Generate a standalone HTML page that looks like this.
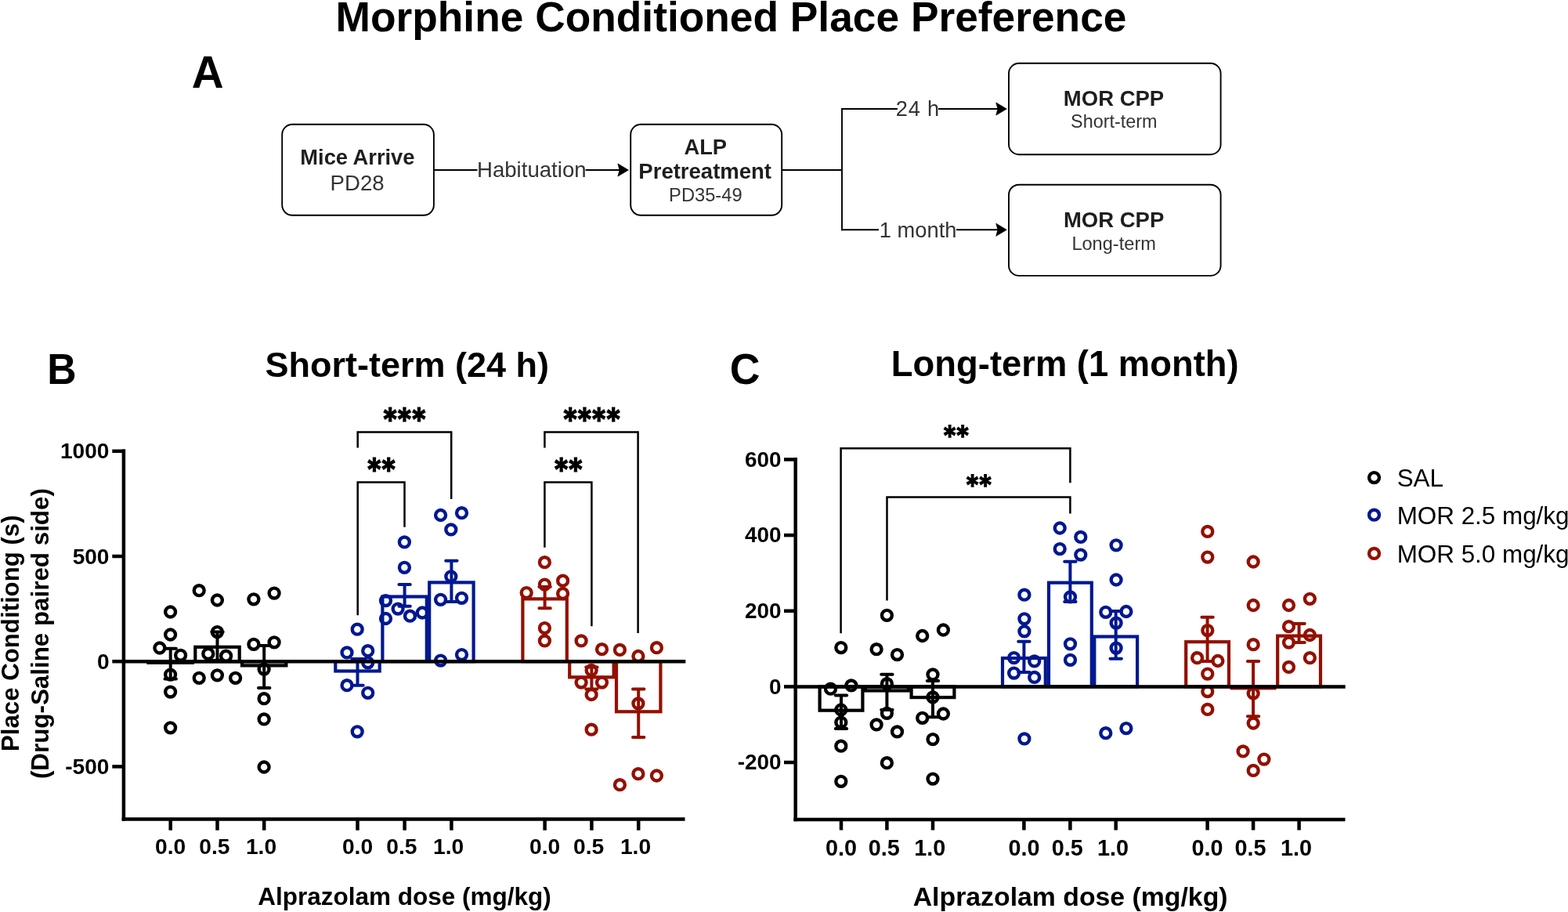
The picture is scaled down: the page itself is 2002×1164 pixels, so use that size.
<!DOCTYPE html>
<html><head><meta charset="utf-8"><title>Morphine Conditioned Place Preference</title>
<style>
html,body{margin:0;padding:0;background:#fff;}
body{width:2002px;height:1164px;overflow:hidden;}
svg{display:block;}
svg text{font-family:"Liberation Sans", Arial, sans-serif;}
</style></head><body>
<svg width="2002" height="1164" viewBox="0 0 2002 1164">
<rect width="2002" height="1164" fill="#fff"/>
<text x="933.5" y="40.2" font-size="53.3" font-weight="bold" text-anchor="middle" fill="#000">Morphine Conditioned Place Preference</text>
<text x="265.25" y="111.7" font-size="56.6" font-weight="bold" text-anchor="middle" fill="#000">A</text>
<text transform="translate(78.85,490) scale(0.92,1)" font-size="56.2" font-weight="bold" text-anchor="middle" fill="#000">B</text>
<text transform="translate(951.2,489.7) scale(0.965,1)" font-size="55.5" font-weight="bold" text-anchor="middle" fill="#000">C</text>
<rect x="360.2" y="158.8" width="193.7" height="116" rx="13" ry="13" fill="#fff" stroke="#000" stroke-width="1.9"/>
<text x="456.4" y="209.7" font-size="27.3" font-weight="bold" text-anchor="middle" fill="#1e1e1e">Mice Arrive</text>
<text x="456.1" y="242.8" font-size="27.6" font-weight="normal" text-anchor="middle" fill="#333">PD28</text>
<line x1="554" y1="217" x2="609.5" y2="217" stroke="#000" stroke-width="1.9"/>
<text x="678.8" y="226.1" font-size="27.6" font-weight="normal" text-anchor="middle" fill="#333">Habituation</text>
<line x1="747.6" y1="217" x2="792" y2="217" stroke="#000" stroke-width="1.9"/>
<polygon points="802.3,217 788.9,209.0 791.0999999999999,217 788.9,225.0" fill="#000" stroke="#000" stroke-width="0.8" stroke-linejoin="miter"/>
<rect x="805.2" y="158.8" width="193" height="116" rx="13" ry="13" fill="#fff" stroke="#000" stroke-width="1.9"/>
<text x="900.8" y="197" font-size="27.3" font-weight="bold" text-anchor="middle" fill="#1e1e1e">ALP</text>
<text x="900.2" y="227.7" font-size="27.5" font-weight="bold" text-anchor="middle" fill="#1e1e1e">Pretreatment</text>
<text x="900.85" y="256.7" font-size="23.7" font-weight="normal" text-anchor="middle" fill="#333">PD35-49</text>
<line x1="998.2" y1="217" x2="1075" y2="217" stroke="#000" stroke-width="1.9"/>
<line x1="1075" y1="138.05" x2="1075" y2="294.25" stroke="#000" stroke-width="1.9"/>
<line x1="1074.05" y1="139" x2="1146" y2="139" stroke="#000" stroke-width="1.9"/>
<text x="1171.8" y="147.8" font-size="27.2" font-weight="normal" text-anchor="middle" fill="#333" letter-spacing="0.8">24 h</text>
<line x1="1198" y1="139" x2="1276" y2="139" stroke="#000" stroke-width="1.9"/>
<polygon points="1285.2,139 1271.8,131.0 1274.0,139 1271.8,147.0" fill="#000" stroke="#000" stroke-width="0.8" stroke-linejoin="miter"/>
<line x1="1074.05" y1="293.3" x2="1122" y2="293.3" stroke="#000" stroke-width="1.9"/>
<text x="1172.1" y="302.7" font-size="27.3" font-weight="normal" text-anchor="middle" fill="#333">1 month</text>
<line x1="1221" y1="293.3" x2="1276" y2="293.3" stroke="#000" stroke-width="1.9"/>
<polygon points="1285.2,293.3 1271.8,285.3 1274.0,293.3 1271.8,301.3" fill="#000" stroke="#000" stroke-width="0.8" stroke-linejoin="miter"/>
<rect x="1288" y="80.8" width="270.6" height="116.4" rx="13" ry="13" fill="#fff" stroke="#000" stroke-width="1.9"/>
<text x="1422" y="134.8" font-size="27.5" font-weight="bold" text-anchor="middle" fill="#1e1e1e">MOR CPP</text>
<text x="1422.3" y="163.4" font-size="23.4" font-weight="normal" text-anchor="middle" fill="#333">Short-term</text>
<rect x="1288" y="235.7" width="270.6" height="116.2" rx="13" ry="13" fill="#fff" stroke="#000" stroke-width="1.9"/>
<text x="1422.1" y="290" font-size="27.5" font-weight="bold" text-anchor="middle" fill="#1e1e1e">MOR CPP</text>
<text x="1422.15" y="319.3" font-size="23.6" font-weight="normal" text-anchor="middle" fill="#333">Long-term</text>
<text x="519.8" y="481.1" font-size="45" font-weight="bold" text-anchor="middle" fill="#000">Short-term (24 h)</text>
<line x1="157.9" y1="573.6" x2="157.9" y2="1047.75" stroke="#000" stroke-width="4.5"/>
<line x1="143.3" y1="575.8" x2="160" y2="575.8" stroke="#000" stroke-width="4.5"/>
<text x="139.5" y="585.4" font-size="28.1" font-weight="bold" text-anchor="end" fill="#000">1000</text>
<line x1="143.3" y1="710.0" x2="160" y2="710.0" stroke="#000" stroke-width="4.5"/>
<text x="139.5" y="719.6" font-size="28.1" font-weight="bold" text-anchor="end" fill="#000">500</text>
<line x1="143.3" y1="844.2" x2="160" y2="844.2" stroke="#000" stroke-width="4.5"/>
<text x="139.5" y="853.8000000000001" font-size="28.1" font-weight="bold" text-anchor="end" fill="#000">0</text>
<line x1="143.3" y1="978.4000000000001" x2="160" y2="978.4000000000001" stroke="#000" stroke-width="4.5"/>
<text x="139.5" y="988.0000000000001" font-size="28.1" font-weight="bold" text-anchor="end" fill="#000">-500</text>
<line x1="155.65" y1="1045.5" x2="874.5" y2="1045.5" stroke="#000" stroke-width="4.5"/>
<line x1="217.7" y1="1045.5" x2="217.7" y2="1059.7" stroke="#000" stroke-width="4.5"/>
<text x="217.7" y="1089.6" font-size="28.2" font-weight="bold" text-anchor="middle" fill="#000">0.0</text>
<line x1="277.5" y1="1045.5" x2="277.5" y2="1059.7" stroke="#000" stroke-width="4.5"/>
<text x="273.8" y="1089.6" font-size="28.2" font-weight="bold" text-anchor="middle" fill="#000">0.5</text>
<line x1="337.2" y1="1045.5" x2="337.2" y2="1059.7" stroke="#000" stroke-width="4.5"/>
<text x="333.5" y="1089.6" font-size="28.2" font-weight="bold" text-anchor="middle" fill="#000">1.0</text>
<line x1="456.5" y1="1045.5" x2="456.5" y2="1059.7" stroke="#000" stroke-width="4.5"/>
<text x="456.5" y="1089.6" font-size="28.2" font-weight="bold" text-anchor="middle" fill="#000">0.0</text>
<line x1="516.6" y1="1045.5" x2="516.6" y2="1059.7" stroke="#000" stroke-width="4.5"/>
<text x="512.9" y="1089.6" font-size="28.2" font-weight="bold" text-anchor="middle" fill="#000">0.5</text>
<line x1="576.4" y1="1045.5" x2="576.4" y2="1059.7" stroke="#000" stroke-width="4.5"/>
<text x="572.6999999999999" y="1089.6" font-size="28.2" font-weight="bold" text-anchor="middle" fill="#000">1.0</text>
<line x1="695.6" y1="1045.5" x2="695.6" y2="1059.7" stroke="#000" stroke-width="4.5"/>
<text x="695.6" y="1089.6" font-size="28.2" font-weight="bold" text-anchor="middle" fill="#000">0.0</text>
<line x1="755.4" y1="1045.5" x2="755.4" y2="1059.7" stroke="#000" stroke-width="4.5"/>
<text x="751.6999999999999" y="1089.6" font-size="28.2" font-weight="bold" text-anchor="middle" fill="#000">0.5</text>
<line x1="815.2" y1="1045.5" x2="815.2" y2="1059.7" stroke="#000" stroke-width="4.5"/>
<text x="811.5" y="1089.6" font-size="28.2" font-weight="bold" text-anchor="middle" fill="#000">1.0</text>
<text x="516.5" y="1155" font-size="31.5" font-weight="bold" text-anchor="middle" fill="#000">Alprazolam dose (mg/kg)</text>
<g transform="translate(23.6,808.2) rotate(-90)">
<text x="0" y="0" font-size="31.2" font-weight="bold" text-anchor="middle" fill="#000">Place Conditiong (s)</text>
</g>
<g transform="translate(61.7,808.6) rotate(-90)">
<text x="0" y="0" font-size="31.35" font-weight="bold" text-anchor="middle" fill="#000">(Drug-Saline paired side)</text>
</g>
<rect x="189.5" y="844.2" width="56.4" height="1.6" fill="none" stroke="#000" stroke-width="4.2"/>
<rect x="249.3" y="825.8" width="56.4" height="18.5" fill="none" stroke="#000" stroke-width="4.2"/>
<rect x="309.0" y="844.2" width="56.4" height="5.2" fill="none" stroke="#000" stroke-width="4.2"/>
<rect x="428.3" y="844.2" width="56.4" height="12.3" fill="none" stroke="#001890" stroke-width="4.2"/>
<rect x="488.4" y="761.5" width="56.4" height="82.7" fill="none" stroke="#001890" stroke-width="4.2"/>
<rect x="548.2" y="743.4" width="56.4" height="100.8" fill="none" stroke="#001890" stroke-width="4.2"/>
<rect x="667.4" y="764.4" width="56.4" height="79.8" fill="none" stroke="#931000" stroke-width="4.2"/>
<rect x="727.2" y="844.2" width="56.4" height="20.1" fill="none" stroke="#931000" stroke-width="4.2"/>
<rect x="787.0" y="844.2" width="56.4" height="64.1" fill="none" stroke="#931000" stroke-width="4.2"/>
<line x1="217.7" y1="827.7" x2="217.7" y2="866.5" stroke="#000" stroke-width="4"/>
<path d="M210.5,827.7H224.9M210.5,866.5H224.9" stroke="#000" stroke-width="4" stroke-linecap="round" fill="none"/>
<line x1="277.5" y1="806.6" x2="277.5" y2="843" stroke="#000" stroke-width="4"/>
<path d="M270.3,806.6H284.7M270.3,843H284.7" stroke="#000" stroke-width="4" stroke-linecap="round" fill="none"/>
<line x1="337.2" y1="824" x2="337.2" y2="878" stroke="#000" stroke-width="4"/>
<path d="M330.0,824H344.4M330.0,878H344.4" stroke="#000" stroke-width="4" stroke-linecap="round" fill="none"/>
<line x1="456.5" y1="841" x2="456.5" y2="874.8" stroke="#001890" stroke-width="4"/>
<path d="M449.3,841H463.7M449.3,874.8H463.7" stroke="#001890" stroke-width="4" stroke-linecap="round" fill="none"/>
<line x1="516.6" y1="745.9" x2="516.6" y2="773.8" stroke="#001890" stroke-width="4"/>
<path d="M509.4,745.9H523.8M509.4,773.8H523.8" stroke="#001890" stroke-width="4" stroke-linecap="round" fill="none"/>
<line x1="576.4" y1="715.7" x2="576.4" y2="768.1" stroke="#001890" stroke-width="4"/>
<path d="M569.2,715.7H583.6M569.2,768.1H583.6" stroke="#001890" stroke-width="4" stroke-linecap="round" fill="none"/>
<line x1="695.6" y1="749" x2="695.6" y2="776.3" stroke="#931000" stroke-width="4"/>
<path d="M688.4,749H702.8M688.4,776.3H702.8" stroke="#931000" stroke-width="4" stroke-linecap="round" fill="none"/>
<line x1="755.4" y1="851.5" x2="755.4" y2="879.4" stroke="#931000" stroke-width="4"/>
<path d="M748.2,851.5H762.6M748.2,879.4H762.6" stroke="#931000" stroke-width="4" stroke-linecap="round" fill="none"/>
<line x1="815.2" y1="879.4" x2="815.2" y2="941" stroke="#931000" stroke-width="4"/>
<path d="M808.0,879.4H822.4M808.0,941H822.4" stroke="#931000" stroke-width="4" stroke-linecap="round" fill="none"/>
<circle cx="217.6" cy="781" r="6.45" fill="none" stroke="#000" stroke-width="4.4"/>
<circle cx="217.6" cy="810" r="6.45" fill="none" stroke="#000" stroke-width="4.4"/>
<circle cx="203.9" cy="827" r="6.45" fill="none" stroke="#000" stroke-width="4.4"/>
<circle cx="230.6" cy="836.3" r="6.45" fill="none" stroke="#000" stroke-width="4.4"/>
<circle cx="217.6" cy="861.1" r="6.45" fill="none" stroke="#000" stroke-width="4.4"/>
<circle cx="217.6" cy="883.1" r="6.45" fill="none" stroke="#000" stroke-width="4.4"/>
<circle cx="217.6" cy="928.8" r="6.45" fill="none" stroke="#000" stroke-width="4.4"/>
<circle cx="254.2" cy="753.7" r="6.45" fill="none" stroke="#000" stroke-width="4.4"/>
<circle cx="277.4" cy="766" r="6.45" fill="none" stroke="#000" stroke-width="4.4"/>
<circle cx="277.4" cy="806.6" r="6.45" fill="none" stroke="#000" stroke-width="4.4"/>
<circle cx="265.8" cy="834.4" r="6.45" fill="none" stroke="#000" stroke-width="4.4"/>
<circle cx="288.6" cy="837.2" r="6.45" fill="none" stroke="#000" stroke-width="4.4"/>
<circle cx="254.2" cy="865.3" r="6.45" fill="none" stroke="#000" stroke-width="4.4"/>
<circle cx="277.4" cy="861.8" r="6.45" fill="none" stroke="#000" stroke-width="4.4"/>
<circle cx="300.6" cy="865.3" r="6.45" fill="none" stroke="#000" stroke-width="4.4"/>
<circle cx="323.9" cy="764.8" r="6.45" fill="none" stroke="#000" stroke-width="4.4"/>
<circle cx="350.1" cy="757.1" r="6.45" fill="none" stroke="#000" stroke-width="4.4"/>
<circle cx="323.9" cy="822.3" r="6.45" fill="none" stroke="#000" stroke-width="4.4"/>
<circle cx="350.1" cy="819.8" r="6.45" fill="none" stroke="#000" stroke-width="4.4"/>
<circle cx="337.1" cy="854.1" r="6.45" fill="none" stroke="#000" stroke-width="4.4"/>
<circle cx="337.1" cy="891.7" r="6.45" fill="none" stroke="#000" stroke-width="4.4"/>
<circle cx="337.1" cy="917.9" r="6.45" fill="none" stroke="#000" stroke-width="4.4"/>
<circle cx="337.1" cy="979" r="6.45" fill="none" stroke="#000" stroke-width="4.4"/>
<circle cx="456.2" cy="803.2" r="6.45" fill="none" stroke="#001890" stroke-width="4.4"/>
<circle cx="443" cy="832.9" r="6.45" fill="none" stroke="#001890" stroke-width="4.4"/>
<circle cx="469.7" cy="830.7" r="6.45" fill="none" stroke="#001890" stroke-width="4.4"/>
<circle cx="469.7" cy="845.8" r="6.45" fill="none" stroke="#001890" stroke-width="4.4"/>
<circle cx="443" cy="874.7" r="6.45" fill="none" stroke="#001890" stroke-width="4.4"/>
<circle cx="469.7" cy="884.3" r="6.45" fill="none" stroke="#001890" stroke-width="4.4"/>
<circle cx="456.2" cy="933.8" r="6.45" fill="none" stroke="#001890" stroke-width="4.4"/>
<circle cx="516.4" cy="691.9" r="6.45" fill="none" stroke="#001890" stroke-width="4.4"/>
<circle cx="516.4" cy="724.3" r="6.45" fill="none" stroke="#001890" stroke-width="4.4"/>
<circle cx="492.5" cy="766.6" r="6.45" fill="none" stroke="#001890" stroke-width="4.4"/>
<circle cx="492.5" cy="789.5" r="6.45" fill="none" stroke="#001890" stroke-width="4.4"/>
<circle cx="508.1" cy="777.1" r="6.45" fill="none" stroke="#001890" stroke-width="4.4"/>
<circle cx="523.5" cy="786.2" r="6.45" fill="none" stroke="#001890" stroke-width="4.4"/>
<circle cx="539.2" cy="782" r="6.45" fill="none" stroke="#001890" stroke-width="4.4"/>
<circle cx="562.6" cy="657.5" r="6.45" fill="none" stroke="#001890" stroke-width="4.4"/>
<circle cx="589.5" cy="654.7" r="6.45" fill="none" stroke="#001890" stroke-width="4.4"/>
<circle cx="575.8" cy="675.9" r="6.45" fill="none" stroke="#001890" stroke-width="4.4"/>
<circle cx="575.8" cy="735.8" r="6.45" fill="none" stroke="#001890" stroke-width="4.4"/>
<circle cx="562.6" cy="765.3" r="6.45" fill="none" stroke="#001890" stroke-width="4.4"/>
<circle cx="589.5" cy="763.3" r="6.45" fill="none" stroke="#001890" stroke-width="4.4"/>
<circle cx="562.6" cy="843.1" r="6.45" fill="none" stroke="#001890" stroke-width="4.4"/>
<circle cx="589.5" cy="835.6" r="6.45" fill="none" stroke="#001890" stroke-width="4.4"/>
<circle cx="695.4" cy="717.7" r="6.45" fill="none" stroke="#931000" stroke-width="4.4"/>
<circle cx="695.4" cy="746.1" r="6.45" fill="none" stroke="#931000" stroke-width="4.4"/>
<circle cx="718.6" cy="741.2" r="6.45" fill="none" stroke="#931000" stroke-width="4.4"/>
<circle cx="672.2" cy="756.6" r="6.45" fill="none" stroke="#931000" stroke-width="4.4"/>
<circle cx="718.6" cy="757.5" r="6.45" fill="none" stroke="#931000" stroke-width="4.4"/>
<circle cx="695.4" cy="801.6" r="6.45" fill="none" stroke="#931000" stroke-width="4.4"/>
<circle cx="695.4" cy="817.9" r="6.45" fill="none" stroke="#931000" stroke-width="4.4"/>
<circle cx="742.1" cy="817.9" r="6.45" fill="none" stroke="#931000" stroke-width="4.4"/>
<circle cx="768.5" cy="828.7" r="6.45" fill="none" stroke="#931000" stroke-width="4.4"/>
<circle cx="742.1" cy="871.1" r="6.45" fill="none" stroke="#931000" stroke-width="4.4"/>
<circle cx="755.1" cy="855.5" r="6.45" fill="none" stroke="#931000" stroke-width="4.4"/>
<circle cx="768.5" cy="871.1" r="6.45" fill="none" stroke="#931000" stroke-width="4.4"/>
<circle cx="755.1" cy="886.5" r="6.45" fill="none" stroke="#931000" stroke-width="4.4"/>
<circle cx="755.1" cy="931.2" r="6.45" fill="none" stroke="#931000" stroke-width="4.4"/>
<circle cx="791.4" cy="829.4" r="6.45" fill="none" stroke="#931000" stroke-width="4.4"/>
<circle cx="814.9" cy="837.5" r="6.45" fill="none" stroke="#931000" stroke-width="4.4"/>
<circle cx="838.4" cy="826.7" r="6.45" fill="none" stroke="#931000" stroke-width="4.4"/>
<circle cx="814.9" cy="897.9" r="6.45" fill="none" stroke="#931000" stroke-width="4.4"/>
<circle cx="814.9" cy="987.7" r="6.45" fill="none" stroke="#931000" stroke-width="4.4"/>
<circle cx="838.4" cy="990" r="6.45" fill="none" stroke="#931000" stroke-width="4.4"/>
<circle cx="791.4" cy="1001.7" r="6.45" fill="none" stroke="#931000" stroke-width="4.4"/>
<line x1="155.65" y1="844.2" x2="875.3" y2="844.2" stroke="#000" stroke-width="4.5"/>
<polyline points="456.7,571.5 456.7,551.6 576.2,551.6 576.2,636.9" fill="none" stroke="#000" stroke-width="2.5"/>
<polyline points="456.7,785.3 456.7,615.6 516.5,615.6 516.5,672.8" fill="none" stroke="#000" stroke-width="2.5"/>
<polyline points="695.4,571.5 695.4,551.6 814.6,551.6 814.6,808.1" fill="none" stroke="#000" stroke-width="2.5"/>
<polyline points="695.4,698.8 695.4,615.6 755.4,615.6 755.4,799.3" fill="none" stroke="#000" stroke-width="2.5"/>
<text transform="translate(514.5,547.75) scale(1,1.08)" font-size="37" font-weight="bold" text-anchor="middle" letter-spacing="-3.9" stroke="#000" stroke-width="2.2" stroke-linejoin="miter" style="font-family:'WenQuanYi Zen Hei', IPAGothic, sans-serif">***</text>
<text transform="translate(485,612.05) scale(1,1.08)" font-size="37" font-weight="bold" text-anchor="middle" letter-spacing="-3.9" stroke="#000" stroke-width="2.2" stroke-linejoin="miter" style="font-family:'WenQuanYi Zen Hei', IPAGothic, sans-serif">**</text>
<text transform="translate(753.6,547.75) scale(1,1.08)" font-size="37" font-weight="bold" text-anchor="middle" letter-spacing="-3.9" stroke="#000" stroke-width="2.2" stroke-linejoin="miter" style="font-family:'WenQuanYi Zen Hei', IPAGothic, sans-serif">****</text>
<text transform="translate(723.7,612.05) scale(1,1.08)" font-size="37" font-weight="bold" text-anchor="middle" letter-spacing="-3.9" stroke="#000" stroke-width="2.2" stroke-linejoin="miter" style="font-family:'WenQuanYi Zen Hei', IPAGothic, sans-serif">**</text>
<text x="1359.75" y="480.2" font-size="45.4" font-weight="bold" text-anchor="middle" fill="#000">Long-term (1 month)</text>
<line x1="1015.7" y1="583.95" x2="1015.7" y2="1048.15" stroke="#000" stroke-width="4.5"/>
<line x1="1001" y1="586.45" x2="1018" y2="586.45" stroke="#000" stroke-width="4.5"/>
<text x="997.5" y="595.6500000000001" font-size="27.9" font-weight="bold" text-anchor="end" fill="#000">600</text>
<line x1="1001" y1="683.0999999999999" x2="1018" y2="683.0999999999999" stroke="#000" stroke-width="4.5"/>
<text x="997.5" y="692.3" font-size="27.9" font-weight="bold" text-anchor="end" fill="#000">400</text>
<line x1="1001" y1="779.75" x2="1018" y2="779.75" stroke="#000" stroke-width="4.5"/>
<text x="997.5" y="788.95" font-size="27.9" font-weight="bold" text-anchor="end" fill="#000">200</text>
<line x1="1001" y1="876.4" x2="1018" y2="876.4" stroke="#000" stroke-width="4.5"/>
<text x="997.5" y="885.6" font-size="27.9" font-weight="bold" text-anchor="end" fill="#000">0</text>
<line x1="1001" y1="973.05" x2="1018" y2="973.05" stroke="#000" stroke-width="4.5"/>
<text x="997.5" y="982.25" font-size="27.9" font-weight="bold" text-anchor="end" fill="#000">-200</text>
<line x1="1013.45" y1="1045.9" x2="1717.5" y2="1045.9" stroke="#000" stroke-width="4.5"/>
<line x1="1074.0" y1="1045.9" x2="1074.0" y2="1059.5" stroke="#000" stroke-width="4.5"/>
<text x="1074.0" y="1091.8" font-size="28.8" font-weight="bold" text-anchor="middle" fill="#000">0.0</text>
<line x1="1132.4" y1="1045.9" x2="1132.4" y2="1059.5" stroke="#000" stroke-width="4.5"/>
<text x="1128.7" y="1091.8" font-size="28.8" font-weight="bold" text-anchor="middle" fill="#000">0.5</text>
<line x1="1191.0" y1="1045.9" x2="1191.0" y2="1059.5" stroke="#000" stroke-width="4.5"/>
<text x="1187.3" y="1091.8" font-size="28.8" font-weight="bold" text-anchor="middle" fill="#000">1.0</text>
<line x1="1307.4" y1="1045.9" x2="1307.4" y2="1059.5" stroke="#000" stroke-width="4.5"/>
<text x="1307.4" y="1091.8" font-size="28.8" font-weight="bold" text-anchor="middle" fill="#000">0.0</text>
<line x1="1366.4" y1="1045.9" x2="1366.4" y2="1059.5" stroke="#000" stroke-width="4.5"/>
<text x="1362.7" y="1091.8" font-size="28.8" font-weight="bold" text-anchor="middle" fill="#000">0.5</text>
<line x1="1424.7" y1="1045.9" x2="1424.7" y2="1059.5" stroke="#000" stroke-width="4.5"/>
<text x="1421.0" y="1091.8" font-size="28.8" font-weight="bold" text-anchor="middle" fill="#000">1.0</text>
<line x1="1541.6" y1="1045.9" x2="1541.6" y2="1059.5" stroke="#000" stroke-width="4.5"/>
<text x="1541.6" y="1091.8" font-size="28.8" font-weight="bold" text-anchor="middle" fill="#000">0.0</text>
<line x1="1600.1" y1="1045.9" x2="1600.1" y2="1059.5" stroke="#000" stroke-width="4.5"/>
<text x="1596.3999999999999" y="1091.8" font-size="28.8" font-weight="bold" text-anchor="middle" fill="#000">0.5</text>
<line x1="1658.6" y1="1045.9" x2="1658.6" y2="1059.5" stroke="#000" stroke-width="4.5"/>
<text x="1654.8999999999999" y="1091.8" font-size="28.8" font-weight="bold" text-anchor="middle" fill="#000">1.0</text>
<text x="1366.65" y="1155.8" font-size="33.8" font-weight="bold" text-anchor="middle" fill="#000">Alprazolam dose (mg/kg)</text>
<rect x="1046.6" y="876.4" width="54.8" height="30.3" fill="none" stroke="#000" stroke-width="4.2"/>
<rect x="1105.0" y="876.4" width="54.8" height="5.1" fill="none" stroke="#000" stroke-width="4.2"/>
<rect x="1163.6" y="876.4" width="54.8" height="13.7" fill="none" stroke="#000" stroke-width="4.2"/>
<rect x="1280.0" y="840.0" width="54.8" height="36.4" fill="none" stroke="#001890" stroke-width="4.2"/>
<rect x="1339.0" y="743.7" width="54.8" height="132.7" fill="none" stroke="#001890" stroke-width="4.2"/>
<rect x="1397.3" y="812.5" width="54.8" height="63.9" fill="none" stroke="#001890" stroke-width="4.2"/>
<rect x="1514.2" y="819.2" width="54.8" height="57.2" fill="none" stroke="#931000" stroke-width="4.2"/>
<rect x="1572.7" y="876.4" width="54.8" height="1.9" fill="none" stroke="#931000" stroke-width="4.2"/>
<rect x="1631.2" y="811.6" width="54.8" height="64.8" fill="none" stroke="#931000" stroke-width="4.2"/>
<line x1="1074.0" y1="887.6" x2="1074.0" y2="929.9" stroke="#000" stroke-width="4"/>
<path d="M1066.8,887.6H1081.2M1066.8,929.9H1081.2" stroke="#000" stroke-width="4" stroke-linecap="round" fill="none"/>
<line x1="1132.4" y1="860.7" x2="1132.4" y2="905.9" stroke="#000" stroke-width="4"/>
<path d="M1125.2,860.7H1139.6M1125.2,905.9H1139.6" stroke="#000" stroke-width="4" stroke-linecap="round" fill="none"/>
<line x1="1191.0" y1="869" x2="1191.0" y2="915.3" stroke="#000" stroke-width="4"/>
<path d="M1183.8,869H1198.2M1183.8,915.3H1198.2" stroke="#000" stroke-width="4" stroke-linecap="round" fill="none"/>
<line x1="1307.4" y1="818.8" x2="1307.4" y2="858" stroke="#001890" stroke-width="4"/>
<path d="M1300.2,818.8H1314.6M1300.2,858H1314.6" stroke="#001890" stroke-width="4" stroke-linecap="round" fill="none"/>
<line x1="1366.4" y1="716.7" x2="1366.4" y2="768" stroke="#001890" stroke-width="4"/>
<path d="M1359.2,716.7H1373.6M1359.2,768H1373.6" stroke="#001890" stroke-width="4" stroke-linecap="round" fill="none"/>
<line x1="1424.7" y1="780.1" x2="1424.7" y2="840.8" stroke="#001890" stroke-width="4"/>
<path d="M1417.5,780.1H1431.9M1417.5,840.8H1431.9" stroke="#001890" stroke-width="4" stroke-linecap="round" fill="none"/>
<line x1="1541.6" y1="787.7" x2="1541.6" y2="844.1" stroke="#931000" stroke-width="4"/>
<path d="M1534.4,787.7H1548.8M1534.4,844.1H1548.8" stroke="#931000" stroke-width="4" stroke-linecap="round" fill="none"/>
<line x1="1600.1" y1="844.1" x2="1600.1" y2="914.2" stroke="#931000" stroke-width="4"/>
<path d="M1592.9,844.1H1607.3M1592.9,914.2H1607.3" stroke="#931000" stroke-width="4" stroke-linecap="round" fill="none"/>
<line x1="1658.6" y1="795.9" x2="1658.6" y2="820.1" stroke="#931000" stroke-width="4"/>
<path d="M1651.4,795.9H1665.8M1651.4,820.1H1665.8" stroke="#931000" stroke-width="4" stroke-linecap="round" fill="none"/>
<circle cx="1073.8" cy="826.6" r="6.45" fill="none" stroke="#000" stroke-width="4.4"/>
<circle cx="1060.5" cy="879.2" r="6.45" fill="none" stroke="#000" stroke-width="4.4"/>
<circle cx="1086.9" cy="874.9" r="6.45" fill="none" stroke="#000" stroke-width="4.4"/>
<circle cx="1073.8" cy="906" r="6.45" fill="none" stroke="#000" stroke-width="4.4"/>
<circle cx="1073.8" cy="922.1" r="6.45" fill="none" stroke="#000" stroke-width="4.4"/>
<circle cx="1073.8" cy="952.2" r="6.45" fill="none" stroke="#000" stroke-width="4.4"/>
<circle cx="1073.8" cy="997.3" r="6.45" fill="none" stroke="#000" stroke-width="4.4"/>
<circle cx="1132.4" cy="785.3" r="6.45" fill="none" stroke="#000" stroke-width="4.4"/>
<circle cx="1119.1" cy="828.7" r="6.45" fill="none" stroke="#000" stroke-width="4.4"/>
<circle cx="1145.5" cy="835.6" r="6.45" fill="none" stroke="#000" stroke-width="4.4"/>
<circle cx="1132.4" cy="872.7" r="6.45" fill="none" stroke="#000" stroke-width="4.4"/>
<circle cx="1132.4" cy="910.3" r="6.45" fill="none" stroke="#000" stroke-width="4.4"/>
<circle cx="1119.1" cy="924.9" r="6.45" fill="none" stroke="#000" stroke-width="4.4"/>
<circle cx="1145.5" cy="933.9" r="6.45" fill="none" stroke="#000" stroke-width="4.4"/>
<circle cx="1132.4" cy="973.7" r="6.45" fill="none" stroke="#000" stroke-width="4.4"/>
<circle cx="1177.7" cy="811.5" r="6.45" fill="none" stroke="#000" stroke-width="4.4"/>
<circle cx="1204.4" cy="804" r="6.45" fill="none" stroke="#000" stroke-width="4.4"/>
<circle cx="1191" cy="860.9" r="6.45" fill="none" stroke="#000" stroke-width="4.4"/>
<circle cx="1191" cy="889.9" r="6.45" fill="none" stroke="#000" stroke-width="4.4"/>
<circle cx="1177.7" cy="916.3" r="6.45" fill="none" stroke="#000" stroke-width="4.4"/>
<circle cx="1204.4" cy="911" r="6.45" fill="none" stroke="#000" stroke-width="4.4"/>
<circle cx="1191" cy="943.6" r="6.45" fill="none" stroke="#000" stroke-width="4.4"/>
<circle cx="1191" cy="994.1" r="6.45" fill="none" stroke="#000" stroke-width="4.4"/>
<circle cx="1307.9" cy="759.2" r="6.45" fill="none" stroke="#001890" stroke-width="4.4"/>
<circle cx="1307.9" cy="789.8" r="6.45" fill="none" stroke="#001890" stroke-width="4.4"/>
<circle cx="1307.9" cy="805.8" r="6.45" fill="none" stroke="#001890" stroke-width="4.4"/>
<circle cx="1294.6" cy="839.6" r="6.45" fill="none" stroke="#001890" stroke-width="4.4"/>
<circle cx="1320.7" cy="843.9" r="6.45" fill="none" stroke="#001890" stroke-width="4.4"/>
<circle cx="1294.6" cy="859.1" r="6.45" fill="none" stroke="#001890" stroke-width="4.4"/>
<circle cx="1320.7" cy="864.4" r="6.45" fill="none" stroke="#001890" stroke-width="4.4"/>
<circle cx="1307.9" cy="942.9" r="6.45" fill="none" stroke="#001890" stroke-width="4.4"/>
<circle cx="1353.2" cy="674" r="6.45" fill="none" stroke="#001890" stroke-width="4.4"/>
<circle cx="1379.8" cy="685.4" r="6.45" fill="none" stroke="#001890" stroke-width="4.4"/>
<circle cx="1353.2" cy="700.6" r="6.45" fill="none" stroke="#001890" stroke-width="4.4"/>
<circle cx="1379.8" cy="708.1" r="6.45" fill="none" stroke="#001890" stroke-width="4.4"/>
<circle cx="1366.5" cy="761.9" r="6.45" fill="none" stroke="#001890" stroke-width="4.4"/>
<circle cx="1366.5" cy="821.8" r="6.45" fill="none" stroke="#001890" stroke-width="4.4"/>
<circle cx="1366.5" cy="842.3" r="6.45" fill="none" stroke="#001890" stroke-width="4.4"/>
<circle cx="1425.1" cy="695.8" r="6.45" fill="none" stroke="#001890" stroke-width="4.4"/>
<circle cx="1425.1" cy="740" r="6.45" fill="none" stroke="#001890" stroke-width="4.4"/>
<circle cx="1411.8" cy="781.3" r="6.45" fill="none" stroke="#001890" stroke-width="4.4"/>
<circle cx="1437.9" cy="780.5" r="6.45" fill="none" stroke="#001890" stroke-width="4.4"/>
<circle cx="1425.1" cy="795.1" r="6.45" fill="none" stroke="#001890" stroke-width="4.4"/>
<circle cx="1425.1" cy="827.1" r="6.45" fill="none" stroke="#001890" stroke-width="4.4"/>
<circle cx="1411.8" cy="935.7" r="6.45" fill="none" stroke="#001890" stroke-width="4.4"/>
<circle cx="1437.9" cy="929.6" r="6.45" fill="none" stroke="#001890" stroke-width="4.4"/>
<circle cx="1541.8" cy="678.4" r="6.45" fill="none" stroke="#931000" stroke-width="4.4"/>
<circle cx="1541.8" cy="711.1" r="6.45" fill="none" stroke="#931000" stroke-width="4.4"/>
<circle cx="1541.8" cy="804.6" r="6.45" fill="none" stroke="#931000" stroke-width="4.4"/>
<circle cx="1528.6" cy="839.7" r="6.45" fill="none" stroke="#931000" stroke-width="4.4"/>
<circle cx="1554.9" cy="843.5" r="6.45" fill="none" stroke="#931000" stroke-width="4.4"/>
<circle cx="1541.8" cy="860.1" r="6.45" fill="none" stroke="#931000" stroke-width="4.4"/>
<circle cx="1541.8" cy="882.6" r="6.45" fill="none" stroke="#931000" stroke-width="4.4"/>
<circle cx="1541.8" cy="905.4" r="6.45" fill="none" stroke="#931000" stroke-width="4.4"/>
<circle cx="1600.2" cy="717" r="6.45" fill="none" stroke="#931000" stroke-width="4.4"/>
<circle cx="1600.2" cy="772.5" r="6.45" fill="none" stroke="#931000" stroke-width="4.4"/>
<circle cx="1600.2" cy="822.7" r="6.45" fill="none" stroke="#931000" stroke-width="4.4"/>
<circle cx="1600.2" cy="885" r="6.45" fill="none" stroke="#931000" stroke-width="4.4"/>
<circle cx="1600.2" cy="923" r="6.45" fill="none" stroke="#931000" stroke-width="4.4"/>
<circle cx="1587.1" cy="958.9" r="6.45" fill="none" stroke="#931000" stroke-width="4.4"/>
<circle cx="1613.9" cy="969.1" r="6.45" fill="none" stroke="#931000" stroke-width="4.4"/>
<circle cx="1600.2" cy="983.4" r="6.45" fill="none" stroke="#931000" stroke-width="4.4"/>
<circle cx="1645.5" cy="772.5" r="6.45" fill="none" stroke="#931000" stroke-width="4.4"/>
<circle cx="1672.4" cy="764.3" r="6.45" fill="none" stroke="#931000" stroke-width="4.4"/>
<circle cx="1645.5" cy="799.7" r="6.45" fill="none" stroke="#931000" stroke-width="4.4"/>
<circle cx="1672.4" cy="810.5" r="6.45" fill="none" stroke="#931000" stroke-width="4.4"/>
<circle cx="1645.5" cy="820.1" r="6.45" fill="none" stroke="#931000" stroke-width="4.4"/>
<circle cx="1672.4" cy="839.7" r="6.45" fill="none" stroke="#931000" stroke-width="4.4"/>
<circle cx="1645.5" cy="851.4" r="6.45" fill="none" stroke="#931000" stroke-width="4.4"/>
<line x1="1013.45" y1="876.4" x2="1717.7" y2="876.4" stroke="#000" stroke-width="4.5"/>
<polyline points="1073.6,808.3 1073.6,572.3 1366.4,572.3 1366.4,616.3" fill="none" stroke="#000" stroke-width="2.5"/>
<polyline points="1132.5,766.4 1132.5,634.6 1366.4,634.6 1366.4,655.5" fill="none" stroke="#000" stroke-width="2.5"/>
<text transform="translate(1219.0,567.1) scale(1,1.04)" font-size="33.5" font-weight="bold" text-anchor="middle" letter-spacing="-3.5" stroke="#000" stroke-width="2.0" stroke-linejoin="miter" style="font-family:'WenQuanYi Zen Hei', IPAGothic, sans-serif">**</text>
<text transform="translate(1248.0,630.1) scale(1,1.04)" font-size="33.5" font-weight="bold" text-anchor="middle" letter-spacing="-3.5" stroke="#000" stroke-width="2.0" stroke-linejoin="miter" style="font-family:'WenQuanYi Zen Hei', IPAGothic, sans-serif">**</text>
<circle cx="1754.5" cy="609.6" r="6.45" fill="none" stroke="#000" stroke-width="4.4"/>
<text x="1783.7" y="620.8" font-size="31.4" font-weight="normal" text-anchor="start" fill="#000">SAL</text>
<circle cx="1754.5" cy="657.2" r="6.45" fill="none" stroke="#001890" stroke-width="4.4"/>
<text x="1783.7" y="669" font-size="31.4" font-weight="normal" text-anchor="start" fill="#000">MOR 2.5 mg/kg</text>
<circle cx="1754.5" cy="706.4" r="6.45" fill="none" stroke="#931000" stroke-width="4.4"/>
<text x="1783.7" y="717.9" font-size="31.4" font-weight="normal" text-anchor="start" fill="#000">MOR 5.0 mg/kg</text>
</svg>
</body></html>
